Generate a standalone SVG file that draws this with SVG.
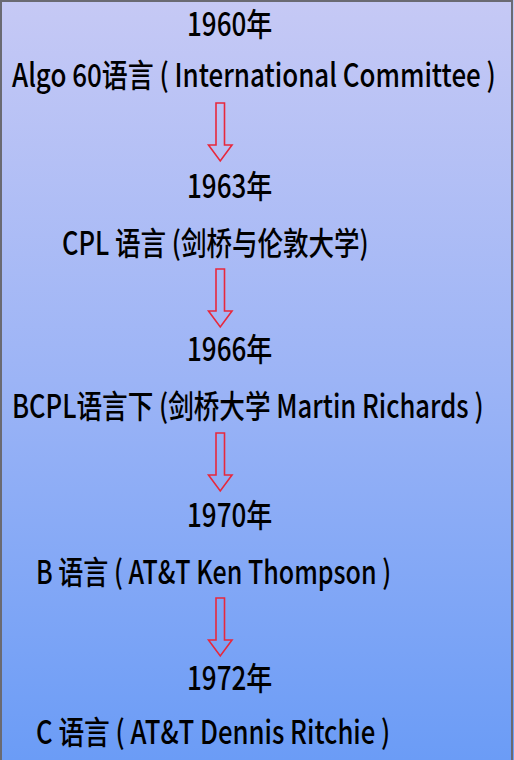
<svg xmlns="http://www.w3.org/2000/svg" width="514" height="760" viewBox="0 0 514 760">
<defs>
<linearGradient id="bg" x1="0" y1="0" x2="0" y2="1">
<stop offset="0" stop-color="#c6c9f5"/>
<stop offset="0.5" stop-color="#9cb4f6"/>
<stop offset="1" stop-color="#6b9cf6"/>
</linearGradient>
<path id="arr" d="M216,0 H224.5 V42 H232 L220.25,58 L208.5,42 H216 Z"/>
</defs>
<style>
text{font-family:"Noto Sans CJK SC","Liberation Sans",sans-serif;font-size:32px;font-weight:500;fill:#000}
.a{fill:none;stroke:#e8283c;stroke-width:1.6;stroke-linejoin:miter}
</style>
<rect x="0" y="0" width="514" height="760" fill="url(#bg)"/>
<rect x="1" y="1" width="511" height="762" fill="none" stroke="#6a6a72" stroke-width="2"/>
<g id="connectors">
<use href="#arr" class="a" y="103"/>
<use href="#arr" class="a" y="269"/>
<use href="#arr" class="a" y="433"/>
<use href="#arr" class="a" y="598"/>
</g>
<g id="n1960"><text transform="translate(187,36) scale(0.82,1)" textLength="104" lengthAdjust="spacingAndGlyphs">1960年</text></g>
<g id="algo"><text transform="translate(12,87) scale(0.82,1)" textLength="590" lengthAdjust="spacingAndGlyphs">Algo 60语言 ( International Committee )</text></g>
<g id="n1963"><text transform="translate(187,198) scale(0.82,1)" textLength="104" lengthAdjust="spacingAndGlyphs">1963年</text></g>
<g id="cpl"><text transform="translate(62,255) scale(0.82,1)" textLength="374" lengthAdjust="spacingAndGlyphs">CPL 语言 (剑桥与伦敦大学)</text></g>
<g id="n1966"><text transform="translate(187,361) scale(0.82,1)" textLength="104" lengthAdjust="spacingAndGlyphs">1966年</text></g>
<g id="bcpl"><text transform="translate(12,418) scale(0.82,1)" textLength="575" lengthAdjust="spacingAndGlyphs">BCPL语言下 (剑桥大学 Martin Richards )</text></g>
<g id="n1970"><text transform="translate(187,527) scale(0.82,1)" textLength="104" lengthAdjust="spacingAndGlyphs">1970年</text></g>
<g id="b"><text transform="translate(36,584) scale(0.82,1)" textLength="433" lengthAdjust="spacingAndGlyphs">B 语言 ( AT&amp;T Ken Thompson )</text></g>
<g id="n1972"><text transform="translate(187,690) scale(0.82,1)" textLength="104" lengthAdjust="spacingAndGlyphs">1972年</text></g>
<g id="c"><text transform="translate(36,744) scale(0.82,1)" textLength="432" lengthAdjust="spacingAndGlyphs">C 语言 ( AT&amp;T Dennis Ritchie )</text></g>
</svg>
